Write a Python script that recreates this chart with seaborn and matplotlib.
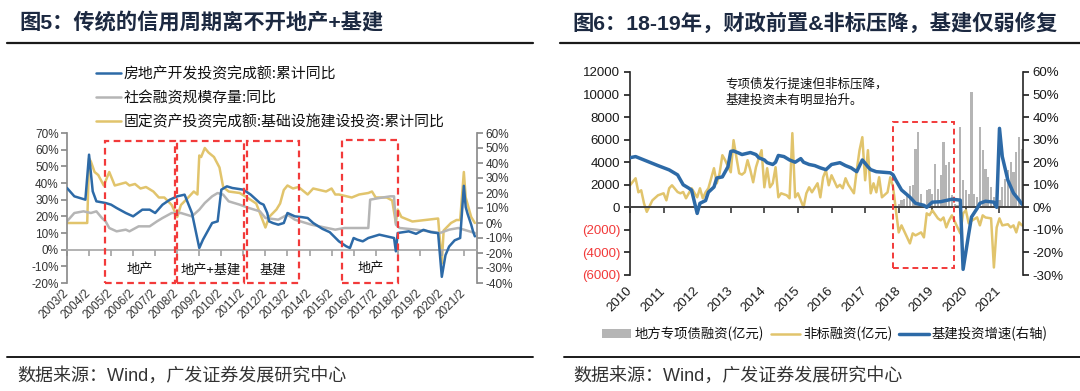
import numpy as np
import pandas as pd
import matplotlib
matplotlib.use("Agg")
import matplotlib.pyplot as plt
import seaborn as sns
from matplotlib.patches import Rectangle
from matplotlib.lines import Line2D
from matplotlib.font_manager import FontProperties

sns.set_theme(style="white")
plt.rcParams['font.family'] = ['Liberation Sans', 'Noto Sans CJK SC', 'DejaVu Sans']
plt.rcParams['axes.unicode_minus'] = False
CJK = ['Noto Sans CJK SC', 'DejaVu Sans']

# ---------------- left chart data (monthly, %) ----------------
re_dates = ['2003-02', '2003-06', '2003-12', '2004-02', '2004-04', '2004-06', '2004-11', '2005-02',
            '2005-05', '2005-10', '2006-02', '2006-07', '2006-11', '2007-02', '2007-06', '2007-10',
            '2008-02', '2008-06', '2008-10', '2009-02', '2009-04', '2009-09', '2009-12', '2010-02',
            '2010-05', '2010-08', '2011-02', '2011-06', '2011-11', '2012-01', '2012-03', '2012-04',
            '2012-06', '2012-09', '2012-12', '2013-02', '2013-06', '2013-10', '2014-01', '2014-04',
            '2014-09', '2015-01', '2015-06', '2015-10', '2015-12', '2016-02', '2016-04', '2016-07',
            '2016-10', '2017-01', '2017-04', '2017-08', '2017-12', '2018-01', '2018-02', '2018-08',
            '2018-12', '2019-04', '2019-08', '2019-12', '2020-02', '2020-04', '2020-06', '2020-09',
            '2020-12', '2021-02', '2021-03', '2021-04', '2021-05', '2021-06', '2021-07', '2021-08']
re_vals = [37, 32, 30, 57, 35, 29, 28, 27,
           25, 22, 20, 24, 24, 22, 27, 30,
           32, 33, 22, 1, 6, 16, 17, 36,
           38, 37, 36, 33, 28, 27, 22, 17,
           16, 15, 16, 22, 20, 19.5, 19, 16,
           12.5, 10.5, 5, 2, 1, 7, 6, 5,
           7, 8, 9, 8, 7, -1, 10, 11,
           9.5, 11.9, 10.5, 9.9, -16.3, -3.3, 1.9, 5.6,
           7, 38.3, 25.6, 21.6, 18.3, 15, 11, 8]

tsf_dates = ['2003-02', '2003-06', '2003-11', '2004-03', '2004-06', '2004-09', '2004-11', '2005-01',
             '2005-05', '2005-10', '2005-12', '2006-05', '2006-11', '2007-03', '2007-06', '2007-11',
             '2008-04', '2008-10', '2009-02', '2009-05', '2009-09', '2009-12', '2010-03', '2010-06',
             '2010-12', '2011-05', '2011-11', '2012-02', '2012-09', '2013-02', '2013-06', '2014-03',
             '2015-04', '2015-09', '2016-05', '2016-10', '2016-11', '2017-04', '2017-10', '2017-12',
             '2018-01', '2018-03', '2018-12', '2019-07', '2020-01', '2020-06', '2020-11', '2021-05',
             '2021-08']
tsf_vals = [17, 22, 23, 22, 23, 19, 17, 13,
            11, 12, 11, 14, 14, 17, 19, 22,
            22, 20, 24, 28, 32, 34, 33, 29,
            27, 25, 23, 19, 18, 21, 18, 15,
            12, 13, 13, 13, 30, 31, 32, 32,
            15, 13, 12, 11, 10, 12, 13, 11,
            10]

infra_dates = ['2003-02', '2004-01', '2004-02', '2004-03', '2004-05', '2004-07', '2004-10', '2005-01',
               '2005-04', '2005-07', '2005-10', '2005-12', '2006-03', '2006-06', '2006-09', '2007-01',
               '2007-04', '2007-07', '2007-11', '2008-02', '2008-04', '2008-08', '2008-11', '2009-01',
               '2009-02', '2009-03', '2009-05', '2009-07', '2009-10', '2010-01', '2010-03', '2010-06',
               '2010-12', '2011-04', '2011-09', '2012-02', '2012-04', '2012-08', '2012-10', '2012-12',
               '2013-02', '2013-05', '2013-08', '2014-01', '2014-04', '2014-11', '2015-02', '2015-04',
               '2015-06', '2016-01', '2016-05', '2016-10', '2016-12', '2017-02', '2017-08', '2017-11',
               '2018-01', '2018-02', '2018-04', '2018-10', '2019-05', '2019-12', '2020-02', '2020-03',
               '2020-07', '2020-10', '2020-12', '2021-02', '2021-03', '2021-06', '2021-08']
infra_vals = [0, 0, 43, 41, 34, 32, 25, 34,
              25, 26, 27, 25, 26, 23, 24, 21,
              17, 17, 12, 4, 12, 17, 21, 19,
              45, 44, 50, 47, 44, 37, 24, 21,
              20, 17, 13, -3, 4, 9, 13, 22,
              25, 23, 24, 19, 23, 21, 23, 19,
              19, 17, 19, 20, 21, 17, 17, 15,
              0, 9, 4, 1, 2, 3, -27, -5,
              0, 2, 2, 34, 17, 4, 0]

left_tick_years = list(range(2003, 2022))

# ---------------- right chart data ----------------
bond_dates = ['2018-%02d' % m for m in range(1, 13)] + ['2019-%02d' % m for m in range(1, 13)] + \
             ['2020-%02d' % m for m in range(1, 13)] + ['2021-%02d' % m for m in range(1, 10)]
bond_vals = [326, 622, 770, 1067, 1867, 1956, 5215, 6696, 1215, 326, 1511, 1659,
             1215, 3881, 1659, 2844, 5807, 3733, 4030, 1067, 326, 178, 7141, 2400,
             1511, 1215, 10252, 1215, 919, 7141, 5067, 3437, 2696, 1807, 919, 474,
             622, 1807, 2548, 3289, 4030, 3141, 4919, 6252, 5215]

nonstd_dates = ['2010-01', '2010-03', '2010-04', '2010-05', '2010-06', '2010-07', '2010-09', '2010-11',
                '2011-01', '2011-02', '2011-03', '2011-04', '2011-06', '2011-07', '2011-08', '2011-09',
                '2011-10', '2011-11', '2012-01', '2012-02', '2012-03', '2012-04', '2012-05', '2012-06',
                '2012-07', '2012-08', '2012-09', '2012-10', '2012-11', '2013-01', '2013-02', '2013-03',
                '2013-04', '2013-05', '2013-06', '2013-07', '2013-08', '2013-09', '2013-10', '2013-11',
                '2013-12', '2014-01', '2014-02', '2014-03', '2014-04', '2014-05', '2014-06', '2014-07',
                '2014-09', '2014-10', '2014-11', '2014-12', '2015-01', '2015-02', '2015-03', '2015-04',
                '2015-05', '2015-06', '2015-08', '2015-09', '2015-10', '2015-11', '2015-12', '2016-01',
                '2016-03', '2016-04', '2016-05', '2016-06', '2016-07', '2016-09', '2016-10', '2016-11',
                '2016-12', '2017-01', '2017-02', '2017-03', '2017-04', '2017-05', '2017-06', '2017-07',
                '2017-09', '2017-10', '2017-11', '2017-12', '2018-01', '2018-02', '2018-04', '2018-05',
                '2018-06', '2018-07', '2018-09', '2018-10', '2018-11', '2018-12', '2019-01', '2019-03',
                '2019-04', '2019-05', '2019-06', '2019-07', '2019-08', '2019-10', '2019-11', '2019-12',
                '2020-01', '2020-02', '2020-03', '2020-05', '2020-06', '2020-07', '2020-08', '2020-10',
                '2020-11', '2020-12', '2021-01', '2021-02', '2021-04', '2021-05', '2021-06', '2021-07',
                '2021-08', '2021-09']
nonstd_vals = [1956, 2578, 1333, 1511, 356, -400, 622, 1067,
               1244, 622, 1689, 1956, 1360, 1244, 1360, 800,
               1244, 1689, 889, 1689, 800, 1333, 1689, 2578,
               3467, 2133, 3022, 4622, 4178, 3111, 5956, 4445,
               3022, 2900, 3111, 4178, 3289, 2222, 3556, 4356,
               5067, 1778, 3467, 1778, 2133, 3556, 889, 1244,
               1067, 800, 6578, 889, 1244, 622, 0, 1244,
               1778, 1333, 2133, 889, 2667, 3289, 1956, 2844,
               1778, 2000, 1689, 2578, 2000, 1244, 3289, 5067,
               6222, 2400, 5067, 1244, 2133, 1333, 2667, 889,
               1333, 2667, 1778, -267, -2222, -1600, -2667, -3200,
               -2311, -2489, -2222, -2667, -533, -700, -267, -978,
               -1156, -900, -1778, -1156, -711, -1778, -2311, -533,
               -267, -1422, -1200, -889, -1600, -711, -900, -978,
               -5333, -1778, -978, -1600, -1500, -1778, -1600, -2222,
               -1333, -1600]

infra_inv_dates = ['2010-01', '2010-03', '2010-08', '2010-11', '2011-03', '2011-06', '2011-08', '2011-10',
                   '2011-11', '2012-01', '2012-02', '2012-04', '2012-05', '2012-07', '2012-08', '2012-10',
                   '2012-12', '2013-01', '2013-02', '2013-04', '2013-05', '2013-08', '2013-10', '2013-11',
                   '2014-01', '2014-02', '2014-04', '2014-05', '2014-06', '2014-08', '2014-10', '2014-12',
                   '2015-02', '2015-03', '2015-05', '2015-07', '2015-09', '2015-11', '2016-01', '2016-04',
                   '2016-06', '2016-08', '2016-10', '2016-12', '2017-02', '2017-03', '2017-05', '2017-07',
                   '2017-10', '2017-11', '2017-12', '2018-02', '2018-05', '2018-07', '2018-10', '2018-11',
                   '2019-01', '2019-04', '2019-08', '2019-11', '2019-12', '2020-02', '2020-03', '2020-05',
                   '2020-06', '2020-08', '2020-11', '2020-12', '2021-01', '2021-02', '2021-04', '2021-06',
                   '2021-08', '2021-09']
infra_inv_vals = [22, 22.5, 20, 18.5, 16.6, 14.4, 10, 8.5,
                  7.6, -2.7, 1.8, 3, 6.7, 9, 13, 13.5,
                  18, 24.8, 25, 24, 23.4, 24.3, 23.4, 22,
                  21, 19.8, 19, 20, 23, 22.5, 21, 20,
                  21.6, 20, 19, 18.5, 17.5, 16.7, 19, 19.8,
                  18.5, 17.5, 15.8, 21, 18, 16.7, 15.8, 15.6,
                  15.3, 14.4, 12, 7.7, 4.5, 1.8, 0.9, 0,
                  2.3, 2.5, 3.6, 3.2, -27.5, -11.8, -4.3, -0.5,
                  1.8, 2.7, 2.3, 0, 35, 22.5, 12, 6.3,
                  3.2, 1.4]

right_tick_years = list(range(2010, 2022))

# ---------------- helpers ----------------
def dec(dates):
    out = []
    for s in dates:
        y, m = s.split('-')
        out.append(int(y) + (int(m) - 1) / 12)
    return np.array(out)

W, H = 1080, 391
BLUE = '#2d6aa7'
GRAY = '#b5b5b5'
YEL = '#e1c46c'
RED = '#f23a3a'
TITLE_C = '#1c2941'

fig = plt.figure(figsize=(W / 100, H / 100), dpi=100)

def fx(px):
    return px / W

def fy(py):
    return 1 - py / H

# ================= LEFT PANEL =================
axL = fig.add_axes([fx(67), fy(283), (477 - 67) / W, 150 / H])
axL2 = axL.twinx()
axL.set_zorder(axL2.get_zorder() + 1)
axL.patch.set_visible(False)

df_re = pd.DataFrame({'t': dec(re_dates), 'v': re_vals})
df_tsf = pd.DataFrame({'t': dec(tsf_dates), 'v': tsf_vals})
df_inf = pd.DataFrame({'t': dec(infra_dates), 'v': infra_vals})

sns.lineplot(data=df_tsf, x='t', y='v', ax=axL, color=GRAY, lw=1.8)
h_tsf = axL.lines[-1]
sns.lineplot(data=df_re, x='t', y='v', ax=axL, color=BLUE, lw=1.8)
h_re = axL.lines[-1]
sns.lineplot(data=df_inf, x='t', y='v', ax=axL2, color=YEL, lw=1.8)
h_inf = axL2.lines[-1]

h_re.set_zorder(3)
h_tsf.set_zorder(2)

axL.set_xlim(2003 + 1 / 12, 2021.68)
axL.set_ylim(-20, 70)
axL2.set_ylim(-40, 60)
axL.set_yticks(range(-20, 71, 10))
axL.set_yticklabels([f'{v}%' for v in range(-20, 71, 10)])
axL2.set_yticks(range(-40, 61, 10))
axL2.set_yticklabels([f'{v}%' for v in range(-40, 61, 10)])
axL.set_xticks([y + 1 / 12 for y in left_tick_years])
axL.set_xticklabels([f'{y}/2' for y in left_tick_years])
axL.set_xlabel('')
axL.set_ylabel('')
axL2.set_ylabel('')

for a in (axL, axL2):
    a.grid(False)
    for s in a.spines.values():
        s.set_visible(False)
axL.spines['left'].set_visible(True)
axL.spines['left'].set_color('#8c8c8c')
axL.spines['bottom'].set_visible(True)
axL.spines['bottom'].set_position(('data', 0))
axL.spines['bottom'].set_color('#a6a6a6')
axL.spines['bottom'].set_linewidth(1.2)
axL2.spines['right'].set_visible(True)
axL2.spines['right'].set_color('#8c8c8c')

axL.tick_params(axis='y', which='both', left=True, length=4, color='#8c8c8c', labelsize=8.5,
                labelcolor='#333333', pad=2)
axL2.tick_params(axis='y', which='both', right=True, length=4, color='#8c8c8c', labelsize=8.5,
                 labelcolor='#333333', pad=2)
axL.tick_params(axis='x', which='both', bottom=True, length=4, color='#a6a6a6', labelsize=8.5,
                labelcolor='#333333', pad=26)
for lab in axL.get_xticklabels():
    lab.set_rotation(45)
    lab.set_ha('right')
    lab.set_va('center')
    lab.set_rotation_mode('anchor')

# dashed boxes
boxes_L = [(2004.81, 2007.98, 65), (2008.07, 2011.11, 65), (2011.25, 2013.60, 65), (2015.55, 2018.10, 66)]
for x0, x1, top in boxes_L:
    axL.add_patch(Rectangle((x0, -20), x1 - x0, top + 20, fill=False, ec=RED, lw=1.6,
                            ls=(0, (3, 2)), clip_on=False, zorder=5))
box_labels = [('地产', 2006.40, -12), ('地产+基建', 2009.59, -12), ('基建', 2012.40, -12), ('地产', 2016.85, -11)]
for txt, x, y in box_labels:
    axL.text(x, y, txt, ha='center', va='center', fontsize=9.5, family=CJK, color='#111111', zorder=6)

legL = axL.legend([h_re, h_tsf, h_inf],
                  ['房地产开发投资完成额:累计同比', '社会融资规模存量:同比',
                   '固定资产投资完成额:基础设施建设投资:累计同比'],
                  loc='upper left', bbox_to_anchor=(fx(96), fy(67)), bbox_transform=fig.transFigure,
                  frameon=False, prop=FontProperties(family=CJK, size=10.7),
                  handlelength=1.65, handletextpad=0.22, labelspacing=0.62, borderpad=0, borderaxespad=0)
for t in legL.get_texts():
    t.set_color('#111111')

# ================= RIGHT PANEL =================
axR = fig.add_axes([fx(630), fy(275), (1023 - 630) / W, (275 - 72) / H])
axR2 = axR.twinx()

t_bond = dec(bond_dates)
bars = axR.bar(t_bond, bond_vals, width=0.062, color=GRAY, linewidth=0, zorder=1)
df_ns = pd.DataFrame({'t': dec(nonstd_dates), 'v': nonstd_vals})
df_ii = pd.DataFrame({'t': dec(infra_inv_dates), 'v': infra_inv_vals})
sns.lineplot(data=df_ns, x='t', y='v', ax=axR, color=YEL, lw=1.8, zorder=2)
h_ns = axR.lines[-1]
sns.lineplot(data=df_ii, x='t', y='v', ax=axR2, color=BLUE, lw=2.5)
h_ii = axR2.lines[-1]

axR.set_xlim(2010.0, 2021.70)
axR.set_ylim(-6000, 12000)
axR2.set_ylim(-30, 60)
lt = list(range(-6000, 12001, 2000))
axR.set_yticks(lt)
axR.set_yticklabels([f'({-v})' if v < 0 else f'{v}' for v in lt])
for v, lab in zip(lt, axR.get_yticklabels()):
    lab.set_color(RED if v < 0 else '#1a1a1a')
axR2.set_yticks(range(-30, 61, 10))
axR2.set_yticklabels([f'{v}%' for v in range(-30, 61, 10)])
axR.set_xticks(right_tick_years)
axR.set_xticklabels([str(y) for y in right_tick_years])
axR.set_xlabel('')
axR.set_ylabel('')
axR2.set_ylabel('')

for a in (axR, axR2):
    a.grid(False)
    for s in a.spines.values():
        s.set_visible(False)
axR.spines['left'].set_visible(True)
axR.spines['left'].set_color('#262626')
axR.spines['left'].set_linewidth(1.2)
axR.spines['bottom'].set_visible(True)
axR.spines['bottom'].set_position(('data', 0))
axR.spines['bottom'].set_color('#404040')
axR.spines['bottom'].set_linewidth(1.4)
axR2.spines['right'].set_visible(True)
axR2.spines['right'].set_color('#262626')
axR2.spines['right'].set_linewidth(1.2)

axR.tick_params(axis='y', which='both', left=True, length=4, color='#262626', labelsize=9.5, pad=3)
axR2.tick_params(axis='y', which='both', right=True, length=4, color='#262626', labelsize=9.5,
                 labelcolor='#1a1a1a', pad=3)
axR.tick_params(axis='x', which='both', bottom=True, length=4, color='#404040', labelsize=9.5,
                labelcolor='#1a1a1a', pad=55)
for lab in axR.get_xticklabels():
    lab.set_rotation(45)
    lab.set_ha('right')
    lab.set_va('center')
    lab.set_rotation_mode('anchor')

axR.add_patch(Rectangle((2017.83, -5400), 2019.64 - 2017.83, 7600 + 5400, fill=False, ec=RED, lw=1.4,
                        ls=(0, (3, 2)), clip_on=False, zorder=5))
axR.text(2012.83, 10200, '专项债发行提速但非标压降，\n基建投资未有明显抬升。', ha='left', va='center',
         fontsize=9, family=CJK, color='#111111', linespacing=1.35)

legR = axR.legend([bars, h_ns, h_ii], ['地方专项债融资(亿元)', '非标融资(亿元)', '基建投资增速(右轴)'],
                  loc='center left', bbox_to_anchor=(fx(602), fy(334)), bbox_transform=fig.transFigure,
                  ncol=3, frameon=False, prop=FontProperties(family=CJK, size=9.6),
                  handlelength=2.2, handletextpad=0.25, columnspacing=0.5, borderpad=0, borderaxespad=0)
for t in legR.get_texts():
    t.set_color('#111111')

# ================= titles, rules, footnotes =================
fig.text(fx(19), fy(23), '图5：传统的信用周期离不开地产+基建', fontsize=15.3, fontweight='bold',
         color=TITLE_C, va='center', ha='left', family=['Liberation Sans', 'Noto Sans CJK SC'])
fig.text(fx(572), fy(23), '图6：18-19年，财政前置&非标压降，基建仅弱修复', fontsize=15.3, fontweight='bold',
         color=TITLE_C, va='center', ha='left', family=['Liberation Sans', 'Noto Sans CJK SC'])
for x0, x1 in ((7, 533), (560, 1080)):
    fig.add_artist(Line2D([fx(x0), fx(x1)], [fy(43), fy(43)], color='#1a1a1a', lw=1.6,
                          transform=fig.transFigure))
for x0, x1 in ((7, 533), (564, 1080)):
    fig.add_artist(Line2D([fx(x0), fx(x1)], [fy(357), fy(357)], color='#1a1a1a', lw=1.4,
                          transform=fig.transFigure))
fig.text(fx(17), fy(376), '数据来源：Wind，广发证券发展研究中心', fontsize=13, color='#333333',
         va='center', ha='left', family=['Liberation Sans', 'Noto Sans CJK SC'])
fig.text(fx(573), fy(376), '数据来源：Wind，广发证券发展研究中心', fontsize=13, color='#333333',
         va='center', ha='left', family=['Liberation Sans', 'Noto Sans CJK SC'])

fig.savefig('out.png', dpi=100, facecolor='white')
